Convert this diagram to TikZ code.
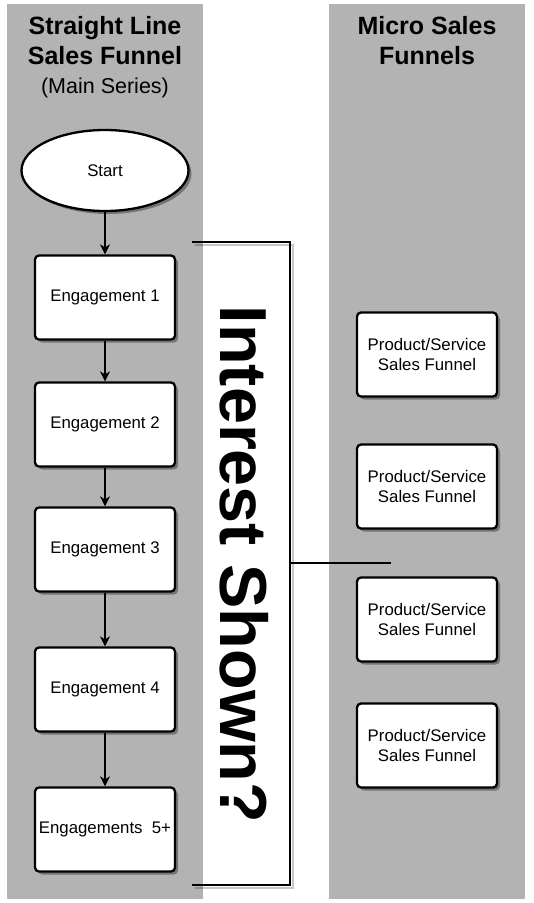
\documentclass[tikz,border=0pt]{standalone}
\usepackage{fontspec}
\setmainfont{Liberation Sans}
\usetikzlibrary{arrows.meta,shapes.geometric,shadows}
\definecolor{lanegray}{HTML}{B3B3B3}
\tikzset{
  lane/.style={fill=lanegray,draw=none},
  shade3/.style={drop shadow={shadow xshift=3pt,shadow yshift=-3pt,opacity=0.35,fill=black}},
  stepbox/.style={draw=black,line width=2.3pt,fill=white,rounded corners=4pt,
    minimum width=140pt,minimum height=84pt,inner sep=0pt,align=center,
    font=\fontsize{16.8}{20}\selectfont,shade3},
  startshape/.style={ellipse,draw=black,line width=2.3pt,fill=white,
    minimum width=167pt,minimum height=81pt,inner sep=0pt,
    font=\fontsize{16.8}{20}\selectfont,shade3},
  arr/.style={-{Stealth[length=10pt,width=10pt,inset=3pt]},line width=1.3pt},
  bracketline/.style={line width=2.3pt,draw=black},
  headbold/.style={anchor=base,font=\fontsize{25}{28}\selectfont\bfseries},
  headreg/.style={anchor=base,font=\fontsize{21.5}{26}\selectfont},
}
\begin{document}
\begin{tikzpicture}[x=1pt,y=-1pt]
\useasboundingbox (0,0) rectangle (534,903);
% lanes
\fill[lane] (7,4) rectangle (203,899);
\fill[lane] (329,4) rectangle (525,899);
% headers
\node[headbold] (h1) at (105,34) {Straight Line};
\node[headbold] (h2) at (105,64) {Sales Funnel};
\node[headreg] (h3) at (105,93) {(Main Series)};
\node[headbold] (m1) at (427,34) {Micro Sales};
\node[headbold] (m2) at (427,64) {Funnels};
% main series
\node[startshape] (start) at (105,170.5) {Start};
\node[stepbox] (e1) at (105,297.5) {Engagement 1};
\node[stepbox] (e2) at (105,424.5) {Engagement 2};
\node[stepbox] (e3) at (105,549.5) {Engagement 3};
\node[stepbox] (e4) at (105,689.5) {Engagement 4};
\node[stepbox] (e5) at (105,829.5) {\hspace*{-8pt}Engagements\ \ 5+\hspace*{-8pt}};
\draw[arr] (start.south) -- (e1.north);
\draw[arr] (e1.south) -- (e2.north);
\draw[arr] (e2.south) -- (e3.north);
\draw[arr] (e3.south) -- (e4.north);
\draw[arr] (e4.south) -- (e5.north);
% micro funnels
\node[stepbox] (p1) at (427,354.5) {Product/Service\\Sales Funnel};
\node[stepbox] (p2) at (427,486.5) {Product/Service\\Sales Funnel};
\node[stepbox] (p3) at (427,619.5) {Product/Service\\Sales Funnel};
\node[stepbox] (p4) at (427,745.5) {Product/Service\\Sales Funnel};
% bracket
\coordinate (bt) at (192,242);
\coordinate (btr) at (290,242);
\coordinate (bbr) at (290,885);
\coordinate (bb) at (192,885);
\coordinate (bm) at (290,563);
\coordinate (bmend) at (391,563);
\draw[line width=2.3pt,black,opacity=0.22] ([shift={(3,3)}]bt) -- ([shift={(3,3)}]btr) -- ([shift={(3,3)}]bbr) -- ([shift={(3,3)}]bb);
\draw[bracketline] (bt) -- (btr) -- (bbr) -- (bb);
\draw[bracketline] (bm) -- (bmend);
% big label
\node[anchor=base,rotate=-90,inner sep=0pt,font=\fontsize{66.5}{70}\selectfont\bfseries] (interest) at (220,564.5) {Interest Shown?};
\end{tikzpicture}
\end{document}
